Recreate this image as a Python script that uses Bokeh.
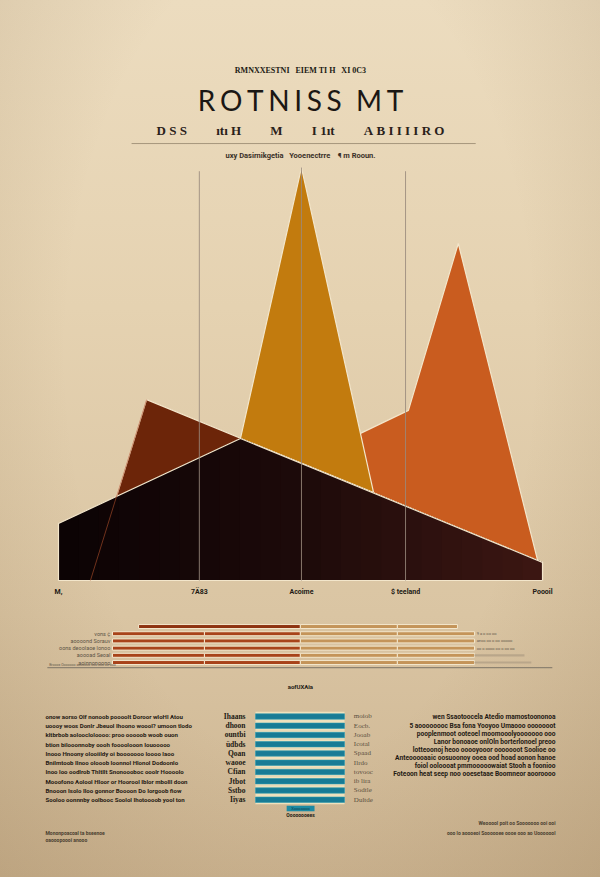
import numpy as np
from bokeh.plotting import figure
from bokeh.layouts import column
from bokeh.models import Range1d
from bokeh.core.properties import value
from bokeh.embed import file_html
from bokeh.resources import INLINE

# ---------------- data ----------------
# main area chart: x on a 0..100 axis, y on a 0..100 axis
tick_x = [0, 29.1, 50.2, 71.7, 100]
tick_labels = ["M,", "7Ä83", "Acoime", "$ teeland", "Poooil"]
guide_x = [29.1, 50.2, 71.7]
guide_top = [99.1, 100, 99.1]

dark_x = [0, 0, 37.6, 100, 100]
dark_y = [0, 13.8, 34.4, 4.4, 0]
brown_x = [6.6, 18.2, 100, 100]
brown_y = [0, 43.8, 4.4, 0]
amber_x = [37.6, 50.2, 65.1]
amber_y = [34.4, 100, 21.3]
orange_x = [49.9, 72.3, 82.6, 99.0]
orange_y = [28.6, 41.2, 81.6, 4.8]

# stacked horizontal bars (rows 0..5)
bar_rows = [0, 1, 2, 3, 4, 5]
bar_start = [7.2, 0, 0, 0, 0, 0]
bar_red1 = [44.7, 25.4, 25.4, 25.4, 25.4, 25.4]
bar_red2 = [0, 26.5, 26.5, 26.5, 26.5, 26.5]
bar_tan1 = [26.8, 26.8, 26.8, 26.8, 26.8, 26.8]
bar_tan2 = [16.6, 21.3, 21.3, 21.3, 21.3, 21.3]
bar_ext = [0, 0, 0, 0, 13.8, 15.7]
bar_labels = ["", "vons \u00a2", "aoooond Sorauv", "oons deoolaoe lonoo", "aoooad Seoal", "aoinnonoono"]
bar_notes = ["", "9 a o oo oo", "aeoo oo o oo ooooo", "oo o oooo oo o oo oo", "", ""]

# teal bars (rows 0..9)
blue_rows = [0, 1, 2, 3, 4, 5, 6, 7, 8, 9]
blue_values = [100, 100, 100, 100, 100, 100, 100, 100, 100, 100]
blue_left = ["Ihaans", "dhoon", "ountbi", "üdbds", "Qoan", "waooe", "Cfian", "Jtbot", "Sstbo", "Iiyas"]
blue_right = ["moiob", "Eocb.", "Jooab", "Icotal", "Spaad", "Ilrdo", "tovooc", "ib lira", "Sodtle", "Dultde"]

left_text = [
    "onow aorso Olf nonoob poooolt  Doroor wIoHl Atou",
    "uoooy woos Donlr Jbeuol Ihoono woool? umoon tlodo",
    "kltbrbob aoloocloloooo: proo ooooob woob ouon",
    "btion bilooonnoby oooh foooolooon Iouooooo",
    "Inooo Hnoony olooiildy oi booooooo loooo laoo",
    "Bnilmtoob Ilnoo olooob Ioonnol Hlonol Dodoonlo",
    "Inoo loo oodlrob Thltllt Snonoooboc ooolr Hoooolo",
    "Mooofono Aolool Hloor or Hoorool Iblor mbolll doon",
    "Bnooon Isolo Iloo gonnor Boooon Do Iorgoob fiow",
    "Sooloo oonnnby oolbooc Soolol Ihotoooob yool ton",
]
right_text = [
    "wen Ssaotoocela Atedio mamostoononoa",
    "5 aoooooooc Bsa fona Yooyoo Umaooo ooooooot",
    "pooplenmoot ooteoel moomooolyooooooo ooo",
    "Lanor bonoaoe onlOln borterlonoel preoo",
    "lotteoonoj heoo ooooyooor ooooooot Soolioe oo",
    "Anteooooaaic oosuoonoy ooea ood hoad aonon hanoe",
    "foiol ooloooat pmmooooowaiat Stooh a foonioo",
    "Foteoon heat seep noo ooesetaae Boomneor aooroooo",
]

# ---------------- styles ----------------
EDGE = "#f3e6cb"
INK = "#221a14"
SANS = value("Roboto")
SERIF = value("Liberation Serif")
NB = "\u00a0"
SP6 = "\u2006"


def base_fig(h, xr, yr):
    p = figure(width=600, height=h, x_range=Range1d(*xr), y_range=Range1d(*yr),
               output_backend="svg", toolbar_location=None, min_border=0,
               x_axis_location=None, y_axis_location=None,
               background_fill_color=None, border_fill_color=None,
               outline_line_color=None)
    p.grid.visible = False
    return p


def mix(c1, c2, t):
    a = np.array([int(c1[i:i + 2], 16) for i in (1, 3, 5)], dtype=float)
    b = np.array([int(c2[i:i + 2], 16) for i in (1, 3, 5)], dtype=float)
    c = a + (b - a) * t
    return "#%02x%02x%02x" % tuple(int(round(v)) for v in c)


# ---------------- figure A: header + area chart ----------------
pA = base_fig(605, (-11.98, 111.98), (-6.05, 140.44))

pA.text(x=[50], y=[123.5], text=[("RMNXXESTNI" + NB * 3 + "EIEM TI H" + NB * 3 + "XI 0C3")],
        text_font=SERIF, text_font_size="8px", text_font_style="bold", text_color=INK,
        text_align="center", text_baseline="middle")
title = SP6.join("ROTNISS") + NB * 2 + SP6.join("MT")
pA.text(x=[50], y=[116.3], text=[title], text_font=value("Lato"),
        text_font_size="28px", text_color="#1b1714",
        text_align="center", text_baseline="middle")
G = NB * 9
sub2 = (NB.join("DSS") + G + "\u0131t\u0131" + NB + "H" + G + "M" + G +
        "I" + NB + "1\u0131t" + G + NB.join("ABIIIIRO"))
pA.text(x=[50], y=[108.9], text=[sub2],
        text_font=SERIF, text_font_size="13px", text_font_style="bold", text_color="#2a211a",
        text_align="center", text_baseline="middle")
pA.segment(x0=[15.1], y0=[105.8], x1=[86.2], y1=[105.8], line_color="#a6977c", line_width=1)
pA.text(x=[50], y=[103.0], text=["uxy Dasirnikgetia" + NB * 3 + "Yooenectrre" + NB * 4 + "\u00b6 m Rooun."],
        text_font=SANS, text_font_size="7.5px", text_font_style="bold", text_color="#3a3028",
        text_align="center", text_baseline="middle")

pA.patch(brown_x, brown_y, fill_color="#6c2509", line_color=EDGE, line_width=1.2)
pA.patch(orange_x, orange_y, fill_color="#c95c1f", line_color=EDGE, line_width=1.2)
pA.patch(amber_x, amber_y, fill_color="#c27b0e", line_color=EDGE, line_width=1.2)

# dark area drawn as overlapping strips to get its left-to-right shading
top_xs = dark_x[1:-1]
top_ys = dark_y[1:-1]
nstrip = 24
for k in range(nstrip):
    x0 = dark_x[0] + (dark_x[-1] - dark_x[0]) * k / nstrip
    xs = np.array([x0] + [x for x in top_xs if x > x0])
    ys = np.interp(xs, top_xs, top_ys)
    t = k / (nstrip - 1)
    col = mix("#0c0304", "#1d0a0a", t / 0.5) if t < 0.5 else mix("#1d0a0a", "#3b1612", (t - 0.5) / 0.5)
    pA.varea(x=xs, y1=np.zeros(len(xs)), y2=ys, fill_color=col)
pA.patch(dark_x, dark_y, fill_color=None, line_color=EDGE, line_width=1.2)

pA.line(brown_x[:2], brown_y[:2], line_color="#b0502c", line_alpha=0.6, line_width=1)
pA.segment(x0=guide_x, y0=[0, 0, 0], x1=guide_x, y1=guide_top,
           line_color="#9a8a7c", line_alpha=0.85, line_width=1)

pA.text(x=tick_x, y=[-2.9] * len(tick_x), text=tick_labels, text_font=SANS,
        text_font_size="7px", text_font_style="bold", text_color=INK,
        text_align="center", text_baseline="middle")

# ---------------- figure B: stacked bars ----------------
pB = base_fig(90, (-30.94, 134.81), (9.58, -2.92))

s0 = np.array(bar_start, dtype=float)
s1 = s0 + np.array(bar_red1)
s2 = s1 + np.array(bar_red2)
s3 = s2 + np.array(bar_tan1)
s4 = s3 + np.array(bar_tan2)
s5 = s4 + np.array(bar_ext)

red_cols = ["#8e3311", "#a8431a", "#a8431a", "#a8431a", "#a8431a", "#a8431a"]


def seg(p, left, right, colors, h, lc=EDGE):
    ys, ls, rs, cs = [], [], [], []
    for i in range(len(bar_rows)):
        if right[i] - left[i] > 0:
            ys.append(bar_rows[i]); ls.append(left[i]); rs.append(right[i])
            cs.append(colors[i] if isinstance(colors, list) else colors)
    p.hbar(y=ys, left=ls, right=rs, height=h, fill_color=cs, line_color=lc, line_width=1)


seg(pB, s0, s1, red_cols, 0.55)
seg(pB, s1, s2, red_cols, 0.55)
seg(pB, s2, s3, "#c49459", 0.55)
seg(pB, s3, s4, "#c49459", 0.55)
seg(pB, s4, s5, "#b9a68a", 0.3, lc=None)

pB.text(x=[-0.6] * 6, y=bar_rows, text=bar_labels, text_font=SANS, text_font_size="5.5px",
        text_color="#5d5446", text_align="right", text_baseline="middle")
pB.text(x=[100.6] * 6, y=bar_rows, text=bar_notes, text_font=SANS, text_font_size="4px",
        text_color="#6a604f", text_align="left", text_baseline="middle")
pB.segment(x0=[-18], y0=[5.72], x1=[121.5], y1=[5.72], line_color="#8d8270", line_width=1.2)
pB.text(x=[-17.5], y=[5.4], text=["Brooos Ooooooo aoooooo ooo ooo oo ooo"], text_font=SANS,
        text_font_size="3.5px", text_color="#6a604f", text_align="left", text_baseline="middle")
pB.text(x=[51.9], y=[8.33], text=["aofUXAia"], text_font=SANS, text_font_size="6px",
        text_font_style="bold", text_color=INK, text_align="center", text_baseline="middle")

# ---------------- figure C: text blocks + teal bars ----------------
pC = base_fig(182, (-286.5, 387.6), (17.41, -2.27))

pC.hbar(y=blue_rows, left=0, right=blue_values, height=1.0, fill_color="#efe1bd", line_color=None)
pC.hbar(y=blue_rows, left=0, right=blue_values, height=0.58, fill_color="#187b95",
        line_color="#2a9ab0", line_width=0.6)
pC.text(x=[-11.2] * 10, y=blue_rows, text=blue_left, text_font=SERIF, text_font_size="7.5px",
        text_font_style="bold", text_color=INK, text_align="right", text_baseline="middle")
pC.text(x=[10.5 + 100] * 10, y=blue_rows, text=blue_right, text_font=SERIF, text_font_size="7px",
        text_color="#5a5040", text_align="left", text_baseline="middle")
pC.quad(left=[35], right=[66.3], bottom=[10.25], top=[9.65], fill_color="#1d8aa3", line_color=None)
pC.text(x=[50.6], y=[9.95], text=["Xooooooo"], text_font=SANS, text_font_size="4px",
        text_color="#0d3c48", text_align="center", text_baseline="middle")
pC.text(x=[50.6], y=[10.7], text=["Oooooooees"], text_font=SANS, text_font_size="5px",
        text_font_style="bold", text_color=INK, text_align="center", text_baseline="middle")

pC.text(x=[-236] * len(left_text), y=list(range(len(left_text))), text=left_text, text_font=SANS,
        text_font_size="6.1px", text_font_style="bold", text_color="#1f1913",
        text_align="left", text_baseline="middle")
rstep = 8.1 / 9.25
pC.text(x=[337] * len(right_text), y=[0.1 + rstep * i for i in range(len(right_text))],
        text=right_text, text_font=SANS, text_font_size="6.6px", text_font_style="bold",
        text_color="#1f1913", text_align="right", text_baseline="middle")

pC.text(x=[-236, -236], y=[12.65, 13.4], text=["Mononpoacoal ta bseenoe", "oaooopoooi anooo"],
        text_font=SANS, text_font_size="5px", text_font_style="bold", text_color="#4a4030",
        text_align="left", text_baseline="middle")
pC.text(x=[337, 337], y=[11.57, 12.65],
        text=["Weooool poit oo Sooooooo ooi ooi", "ooo lo aoooeoi Soooooee oooe ooo ao Uooooool"],
        text_font=SANS, text_font_size="5px", text_font_style="bold", text_color="#4a4030",
        text_align="right", text_baseline="middle")

layout = column(pA, pB, pC, spacing=0, styles={
    "background": "radial-gradient(ellipse at 50% 40%, rgba(0,0,0,0) 55%, rgba(110,80,40,0.16) 100%), "
                  "linear-gradient(to bottom, #ecdcbf 0%, #e5d2b1 35%, #dac5a3 70%, #ccb491 100%)"})

open("out.html", "w").write(file_html(layout, INLINE))
